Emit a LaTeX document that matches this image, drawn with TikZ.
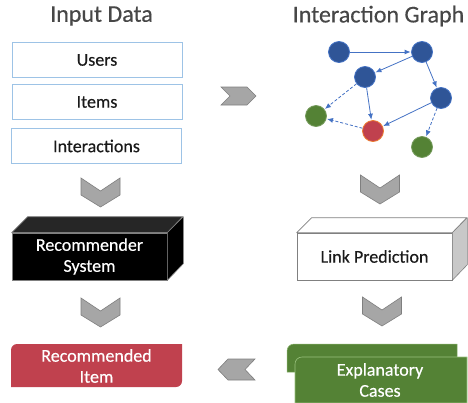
\documentclass[tikz,border=0pt]{standalone}
\usepackage{fontspec}
\setmainfont{Carlito}[FakeBold=0.35]
\usetikzlibrary{arrows.meta}
\definecolor{titlegray}{HTML}{474747}
\definecolor{txtdark}{HTML}{1A1A1A}
\definecolor{boxblue}{HTML}{9DC3E6}
\definecolor{chevfill}{HTML}{A6A6A6}
\definecolor{chevline}{HTML}{7F7F7F}
\definecolor{nodeblue}{HTML}{2F5597}
\definecolor{edgeblue}{HTML}{4472C4}
\definecolor{nodegreen}{HTML}{548235}
\definecolor{nodered}{HTML}{C0414E}
\definecolor{redline}{HTML}{ED7D31}
\definecolor{sidegray}{HTML}{C8C8C8}
\definecolor{edgegray}{HTML}{808080}
\definecolor{lightgreen}{HTML}{A9D18E}
\tikzset{
  title/.style={font=\fontsize{24}{28}\selectfont, text=titlegray},
  inbox/.style={draw=boxblue, line width=0.9pt, fill=white, minimum width=170, minimum height=35,
    font=\fontsize{18}{22}\selectfont, text=txtdark, inner sep=0pt},
  label/.style={font=\fontsize{18}{22}\selectfont, align=center, inner sep=0pt},
  gnode/.style={circle, minimum size=21, inner sep=0pt, line width=0.8pt},
  gblue/.style={gnode, fill=nodeblue, draw=edgeblue},
  ggreen/.style={gnode, fill=nodegreen, draw=nodegreen!80!white},
  gred/.style={gnode, fill=nodered, draw=redline},
  gedge/.style={draw=edgeblue, line width=0.8pt, -{Latex[length=6pt,width=5pt]}, shorten >=0.5pt},
  gdash/.style={gedge, dash pattern=on 3pt off 2pt},
  chev/.style={fill=chevfill, draw=chevline, line width=0.6pt, line join=miter},
  chevdown/.pic={\path[chev] (-19.5,0) -- (0,13) -- (19.5,0) -- (19.5,17) -- (0,29) -- (-19.5,17) -- cycle;},
  chevright/.pic={\path[chev] (0,0) -- (26,0) -- (35,9) -- (26,18) -- (0,18) -- (9,9) -- cycle;},
  chevleft/.pic={\path[chev] (0,0) -- (-27,0) -- (-37,10.5) -- (-27,21) -- (0,21) -- (-10,10.5) -- cycle;},
}
\begin{document}
\begin{tikzpicture}[x=1pt, y=-1pt]
\useasboundingbox (0,0) rectangle (468,402);

% column titles
\node[title] (t1) at (101.5,16) {Input Data};
\node[title] (t2) at (378.5,16) {Interaction Graph};

% input data boxes
\node[inbox] (users) at (97,60) {Users};
\node[inbox] (items) at (97,102) {Items};
\node[inbox] (inter) at (96.5,146) {Interactions};

% interaction graph
\node[gblue] (a) at (339,52) {};
\node[gblue] (b) at (422,52) {};
\node[gblue] (c) at (365,77) {};
\node[gblue] (d) at (441,98) {};
\node[ggreen] (e) at (316,116) {};
\node[gred] (f) at (373,131) {};
\node[ggreen] (g) at (422,147) {};
\draw[gedge] (a) -- (b);
\draw[gedge] (b) -- (c);
\draw[gedge] (b) -- (d);
\draw[gedge] (c) -- (f);
\draw[gedge] (d) -- (f);
\draw[gdash] (c) -- (e);
\draw[gdash] (f) -- (e);
\draw[gdash] (d) -- (g);

% flow chevrons
\pic at (221,87) {chevright};
\pic at (100.5,178) {chevdown};
\pic at (380,175) {chevdown};
\pic at (100.5,298) {chevdown};
\pic at (382,297) {chevdown};
\pic at (255,359) {chevleft};

% recommender system block
\node[label, fill=black, draw=edgegray, line width=0.6pt, minimum width=155, minimum height=47, text=white]
  (rs) at (89.5,256.5) {Recommender\\[-1pt]System};
\path[fill=black!85!white, draw=edgegray, line width=0.6pt, line join=round]
  (rs.north west) -- ++(16,-16) -- ++(155,0) -- (rs.north east) -- cycle;
\path[fill=black, draw=edgegray, line width=0.6pt, line join=round]
  (rs.north east) -- ++(16,-16) -- ++(0,47) -- (rs.south east) -- cycle;

% link prediction block
\node[label, fill=white, draw=edgegray, line width=0.6pt, minimum width=155, minimum height=47, text=txtdark]
  (lp) at (374.5,256.5) {Link Prediction};
\path[fill=white, draw=edgegray, line width=0.6pt, line join=round]
  (lp.north west) -- ++(15,-15) -- ++(155,0) -- (lp.north east) -- cycle;
\path[fill=sidegray, draw=edgegray, line width=0.6pt, line join=round]
  (lp.north east) -- ++(15,-15) -- ++(0,47) -- (lp.south east) -- cycle;

% recommended item
\path[fill=nodered] (11,387) -- (11,350) arc[start angle=180, end angle=270, radius=6]
  -- (182,344) -- (182,381) arc[start angle=0, end angle=90, radius=6] -- cycle;
\node[label, text=white] (ri) at (96.5,366) {Recommended\\[-1pt]Item};

% explanatory cases
\path[fill=nodegreen, draw=lightgreen!60!nodegreen, line width=0.5pt]
  (287,372) -- (287,351) arc[start angle=180, end angle=270, radius=7] -- (457,344) -- (457,372) -- cycle;
\path[fill=nodegreen, draw=lightgreen!80!nodegreen, line width=0.6pt]
  (295,403) -- (295,364) arc[start angle=180, end angle=270, radius=7] -- (467,357) -- (467,403) -- cycle;
\node[label, text=white] (ec) at (380,380) {Explanatory\\[-1pt]Cases};
\end{tikzpicture}
\end{document}
